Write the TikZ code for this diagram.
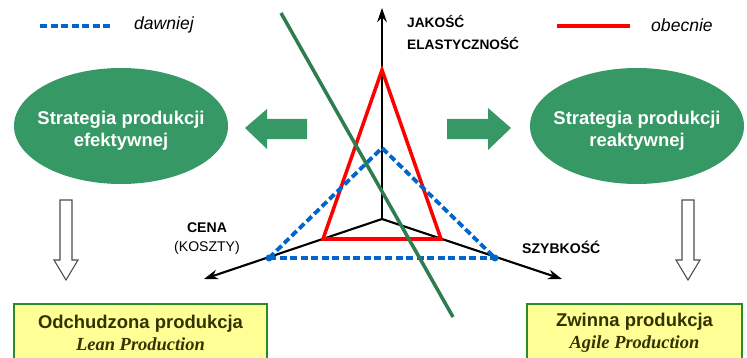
\documentclass[tikz,border=0pt]{standalone}
\usepackage{fontspec}
\setmainfont{Liberation Sans}
\newfontfamily\timesfont{Liberation Serif}
\usetikzlibrary{shapes.geometric,arrows.meta}
\definecolor{strgreen}{RGB}{53,152,101}
\definecolor{cutgreen}{RGB}{46,125,80}
\definecolor{oldblue}{RGB}{0,102,204}
\definecolor{boxyellow}{RGB}{255,255,150}
\definecolor{boxline}{RGB}{40,140,40}
\definecolor{boxtext}{RGB}{51,51,0}
\tikzset{
  strategy/.style={text=white, align=center,
    font=\fontsize{10.5}{12.5}\selectfont\bfseries},
  prodbox/.style={draw=boxline, fill=boxyellow, line width=0.8pt},
  prodtext/.style={text=boxtext, align=center, font=\fontsize{10.5}{12.5}\selectfont\bfseries},
  axislabel/.style={font=\fontsize{7.8}{12}\selectfont\bfseries, anchor=west},
  legendtext/.style={font=\fontsize{10}{12}\selectfont\itshape, anchor=west},
  olddash/.style={oldblue, line width=2.2pt, dash pattern=on 4pt off 2pt},
  newline/.style={red, line width=2pt},
  axis/.style={black, line width=1.2pt, -{Stealth[length=8pt,width=5.5pt]}},
  bigarrow/.style={fill=strgreen},
  downarrow/.style={draw=black!70, fill=white, line width=0.6pt}
}
\begin{document}
\begin{tikzpicture}[x=0.02cm,y=-0.02cm]
		%%%%% START %%%%%
		\useasboundingbox (0,0) rectangle (747,358);
		\clip (0,0) rectangle (747,358);
		
		% legend
		\draw[olddash] (40,26) -- (113,26);
		\node[legendtext] (old) at (128,25) {dawniej};
		\draw[newline] (557,26) -- (630,26);
		\node[legendtext] (now) at (645,25) {obecnie};
		
		% axes
		\coordinate (o) at (382,219);
		\coordinate (up) at (382,8);
		\coordinate (left) at (204,279);
		\coordinate (right) at (562,279);
		\draw[axis] (o) -- (up);
		\draw[axis] (o) -- (left);
		\draw[axis] (o) -- (right);
		\node[axislabel] (jakosc) at (401,21) {JAKOŚĆ};
		\node[axislabel] (elast) at (401,43) {ELASTYCZNOŚĆ};
		\node[font=\fontsize{8}{10}\selectfont\bfseries] (cena) at (207,228) {CENA};
		\node[font=\fontsize{8}{10}\selectfont] (koszty) at (207,248) {(KOSZTY)};
		\node[axislabel, font=\fontsize{8}{10}\selectfont\bfseries] (szybkosc) at (516,247) {SZYBKOŚĆ};
		
		% profiles
		\coordinate (ntop) at (382,70);
		\coordinate (nleft) at (323,239);
		\coordinate (nright) at (441,239);
		\draw[newline, line join=miter] (ntop) -- (nright) -- (nleft) -- cycle;
		\coordinate (otop) at (382,148);
		\coordinate (oleft) at (269,258);
		\coordinate (oright) at (495,258);
		\draw[olddash] (oleft) -- (otop) -- (oright);
		\draw[olddash] (oleft) -- (oright);
		\fill[oldblue] (oleft) circle (3.5);
		\fill[oldblue] (oright) circle (3.5);
		
		% cut line
		\draw[cutgreen, line width=2pt] (281,13) -- (453,317);
		
		% strategies
		\fill[strgreen] (121,126) ellipse [x radius=107, y radius=58];
		\node[strategy] (eff) at (121,131) {Strategia produkcji\\efektywnej};
		\fill[strgreen] (637,126) ellipse [x radius=107, y radius=58];
		\node[strategy] (react) at (637,131) {Strategia produkcji\\reaktywnej};
		\fill[bigarrow] (245,128) -- (267,109) -- (267,119) -- (307,119)
			-- (307,139) -- (267,139) -- (267,149) -- cycle;
		\fill[bigarrow] (511,128) -- (488,108) -- (488,119) -- (447,119)
			-- (447,139) -- (488,139) -- (488,150) -- cycle;
		
		% down arrows
		\draw[downarrow] (60,200) -- (72,200) -- (72,260) -- (78,260) -- (66,280)
			-- (54,260) -- (60,260) -- cycle;
		\draw[downarrow] (682,200) -- (694,200) -- (694,260) -- (700,260) -- (688,280)
			-- (676,260) -- (682,260) -- cycle;
		
		% production boxes
		\draw[prodbox] (14,304) rectangle (267,365);
		\node[prodtext] (lean) at (140.5,333) {Odchudzona produkcja\\{\timesfont\itshape Lean Production}};
		\draw[prodbox] (527,304) rectangle (742,365);
		\node[prodtext] (agile) at (634.5,333) {Zwinna produkcja\\{\timesfont\itshape Agile Production}};
		
		%%%%% END %%%%%
	\end{tikzpicture}
\end{document}
